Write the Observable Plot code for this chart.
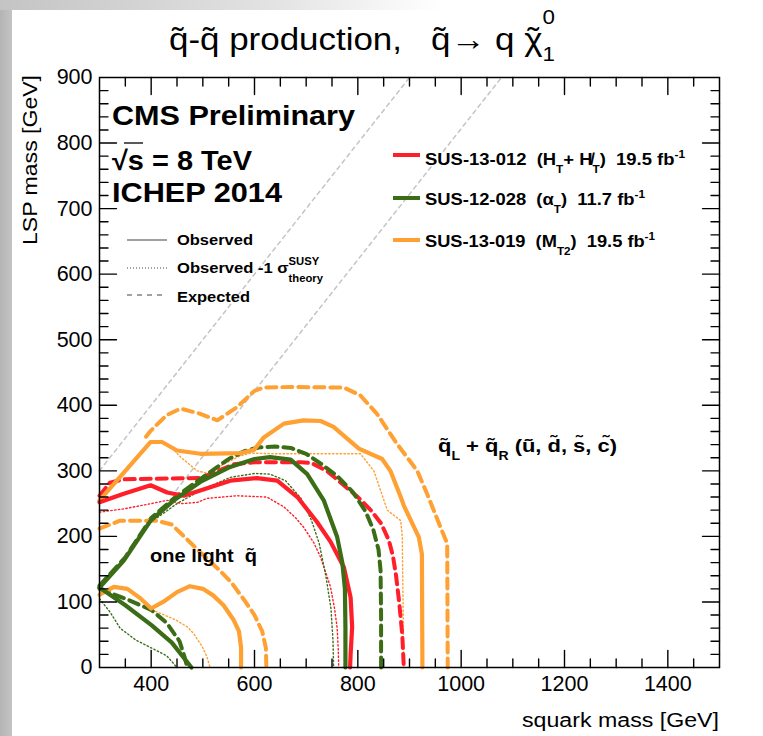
<!DOCTYPE html>
<html><head><meta charset="utf-8">
<script src="https://cdn.jsdelivr.net/npm/d3@7"></script>
<script src="https://cdn.jsdelivr.net/npm/@observablehq/plot@0.6"></script>
<style>
html,body{margin:0;padding:0;background:#fff;}
#wrap{position:relative;width:763px;height:736px;overflow:hidden;background:#fff;}
#lbar{position:absolute;left:0;top:0;width:12px;height:736px;background:linear-gradient(to right,#b4b4b4,#c4c4c4);}
#tbar{position:absolute;left:0;top:0;width:763px;height:10px;background:linear-gradient(to right,#c4c4c4 0%,#e2e2e2 35%,#ffffff 58%);}
#chart{position:absolute;left:0;top:0;}
</style></head>
<body><div id="wrap"><div id="lbar"></div><div id="tbar"></div><div id="chart"></div></div>
<script>
// ---------- axis ticks ----------
const xMajor = [400, 600, 800, 1000, 1200, 1400];
const xTickLabels = ["400", "600", "800", "1000", "1200", "1400"];
const xMinor = [350, 450, 500, 550, 650, 700, 750, 850, 900, 950, 1050, 1100, 1150, 1250, 1300, 1350, 1450];
const yMajor = [100, 200, 300, 400, 500, 600, 700, 800];
const yLabelValues = [0, 100, 200, 300, 400, 500, 600, 700, 800, 900];
const yTickLabels = ["0", "100", "200", "300", "400", "500", "600", "700", "800", "900"];
const yMinor = [20, 40, 60, 80, 120, 140, 160, 180, 220, 240, 260, 280, 320, 340, 360, 380, 420, 440, 460, 480, 520, 540, 560, 580, 620, 640, 660, 680, 720, 740, 760, 780, 820, 840, 860, 880];

// ---------- kinematic guide lines (m_LSP = m_squark - offset) ----------
const diagonalOffsets = [0, 178];
const diagonalStartX = [300, 448];

// ---------- exclusion contours [squark mass, LSP mass] ----------
// SUS-13-012 (HT + MHT), 8 degenerate squarks
const sus13012_obs = [[300,252],[347,265],[399,278],[431,267],[463,262],[495,270],[553,285],[605,289],[644,285],[683,260],[721,222],[747,192],[773,153],[786,107],[789,62],[786,20],[785,0]];
const sus13012_exp = [[300,262],[320,282],[347,287],[400,288],[495,289],[530,300],[560,310],[600,313],[690,313],[710,312],[740,300],[770,280],[800,260],[825,240],[845,220],[860,194],[868,170],[874,140],[880,100],[886,50],[889,0]];
const sus13012_m1 = [[300,237],[347,242],[400,250],[431,255],[460,250],[490,252],[508,258],[566,262],[624,260],[657,245],[680,228],[695,214],[715,190],[728,168],[740,140],[747,123],[755,90],[760,60],[762,30],[763,0]];
// SUS-12-028 (alphaT), 8 squarks
const sus12028_obs8 = [[300,122],[347,163],[399,224],[444,255],[495,283],[553,306],[600,318],[630,321],[670,317],[702,295],[734,255],[760,199],[770,160],[775,120],[776,60],[776,0]];
const sus12028_exp8 = [[300,125],[350,168],[400,228],[450,262],[500,290],[550,318],[580,330],[610,336],[640,337],[670,335],[700,326],[730,310],[760,292],[790,268],[815,238],[830,210],[840,180],[844,148],[845,80],[845,0]];
const sus12028_m18 = [[400,222],[450,250],[500,272],[553,290],[600,296],[630,295],[660,285],[690,258],[710,225],[725,190],[738,140],[748,90],[752,40],[753,0]];
// SUS-12-028, one light squark
const sus12028_obs1 = [[300,122],[350,95],[400,65],[440,38],[478,0]];
const sus12028_exp1 = [[300,120],[350,105],[400,88],[430,68],[455,40],[465,15],[470,0]];
const sus12028_m11 = [[300,105],[320,85],[340,60],[370,42],[400,30],[430,18],[450,0]];
// SUS-13-019 (MT2), 8 squarks
const sus13019_obs8 = [[300,255],[350,300],[399,344],[421,344],[450,331],[495,326],[573,327],[599,332],[618,351],[657,372],[695,377],[728,376],[753,367],[802,334],[847,318],[863,300],[883,260],[889,247],[918,199],[924,173],[925,0]];
const sus13019_exp8 = [[390,352],[399,361],[430,385],[457,395],[495,387],[528,377],[566,397],[600,422],[618,427],[670,428],[773,427],[805,415],[837,387],[876,341],[915,300],[934,265],[960,214],[973,189],[974,0]];
const sus13019_m18 = [[440,335],[457,321],[489,300],[510,296],[540,310],[570,322],[592,327],[644,326],[805,326],[831,300],[844,270],[857,240],[883,224],[886,199],[889,0]];
// SUS-13-019, one light squark
const sus13019_obs1 = [[300,111],[328,123],[354,120],[380,105],[400,90],[423,100],[450,115],[475,124],[500,120],[520,110],[540,95],[560,72],[570,55],[574,30],[574,0]];
const sus13019_exp1 = [[300,212],[340,224],[410,224],[440,218],[470,195],[500,172],[530,150],[555,130],[580,103],[600,80],[615,55],[622,30],[623,0]];
const sus13019_m11 = [[395,90],[420,82],[449,72],[470,62],[483,51],[500,30],[508,16],[514,0]];

const RED = "#ff1f2a", GREEN = "#3b6d16", ORANGE = "#ffa033";
const STYLE = {
  solid: {strokeWidth: 4.2},
  dashed: {strokeWidth: 4, strokeDasharray: "10,6"},
  dotted: {strokeWidth: 1.4, strokeDasharray: "1.4,2.4"}
};
const series = [
  [sus13012_m1, RED, "dotted"], [sus12028_m18, GREEN, "dotted"], [sus12028_m11, GREEN, "dotted"],
  [sus13019_m18, ORANGE, "dotted"], [sus13019_m11, ORANGE, "dotted"],
  [sus13012_exp, RED, "dashed"], [sus12028_exp8, GREEN, "dashed"], [sus12028_exp1, GREEN, "dashed"],
  [sus13019_exp8, ORANGE, "dashed"], [sus13019_exp1, ORANGE, "dashed"],
  [sus13019_obs8, ORANGE, "solid"], [sus13019_obs1, ORANGE, "solid"],
  [sus13012_obs, RED, "solid"], [sus12028_obs8, GREEN, "solid"], [sus12028_obs1, GREEN, "solid"]
];

const diagonals = diagonalOffsets.map((o, i) => [[diagonalStartX[i], diagonalStartX[i] - o], [900 + o, 900]]);

const FONT = "'Liberation Sans', Arial, Helvetica, sans-serif";
const W = 763, H = 736, ML = 99, MR = 44, MT = 77, MB = 69;
const TL = 17, TS = 8.5; // inward tick lengths (px)
const perPxY = 900 / (H - MT - MB), perPxX = 1200 / (W - ML - MR);

// inward tick segments, built from the tick arrays (two points per tick, grouped by key)
const tickSegs = [];
for (const [vals, len] of [[xMajor, TL], [xMinor, TS]]) for (const v of vals) {
  tickSegs.push({k: "b" + v, x: v, y: 0}, {k: "b" + v, x: v, y: len * perPxY});
  tickSegs.push({k: "t" + v, x: v, y: 900}, {k: "t" + v, x: v, y: 900 - len * perPxY});
}
for (const [vals, len] of [[yMajor, TL], [yMinor, TS]]) for (const v of vals) {
  tickSegs.push({k: "l" + v, x: 300, y: v}, {k: "l" + v, x: 300 + len * perPxX, y: v});
  tickSegs.push({k: "r" + v, x: 1500, y: v}, {k: "r" + v, x: 1500 - len * perPxX, y: v});
}

const plot = Plot.plot({
  width: W, height: H,
  marginLeft: ML, marginRight: MR, marginTop: MT, marginBottom: MB,
  x: {domain: [300, 1500], label: null},
  y: {domain: [0, 900], label: null},
  style: {fontFamily: FONT, background: "transparent", overflow: "visible"},
  marks: [
    ...diagonals.map(d => Plot.line(d, {x: p => p[0], y: p => p[1], stroke: "#c4c4c4", strokeWidth: 1.5, strokeDasharray: "4,4"})),
    ...series.map(([pts, color, st]) => Plot.line(pts, {x: p => p[0], y: p => p[1], stroke: color, ...STYLE[st]})),
    Plot.line(tickSegs, {x: "x", y: "y", z: "k", stroke: "#000", strokeWidth: 1.4}),
    Plot.axisX(xMajor, {tickSize: 0, tickPadding: 8, fontSize: 21.5, label: null, tickFormat: d => xTickLabels[xMajor.indexOf(d)]}),
    Plot.axisY(yLabelValues, {tickSize: 0, tickPadding: 7, fontSize: 21.5, label: null, tickFormat: d => yTickLabels[yLabelValues.indexOf(d)]}),
    Plot.frame({stroke: "#000", strokeWidth: 1.5})
  ]
});
document.getElementById("chart").appendChild(plot);

const svg = d3.select(plot);

function rich(x, y, parts, {size = 17, weight = "normal", anchor = "start", rotate = 0, width = null,
                            supShift = 0.42, subShift = 0.32, scriptSize = 0.64} = {}) {
  const t = svg.append("text").attr("x", x).attr("y", y)
    .attr("font-size", size).attr("font-weight", weight).attr("text-anchor", anchor)
    .attr("font-family", FONT).attr("fill", "#000").style("white-space", "pre");
  if (rotate) t.attr("transform", `rotate(${rotate},${x},${y})`);
  let shift = 0, lastLen = 0, pendingDx = 0;
  for (const p of parts) {
    const [s, kind] = typeof p === "string" ? [p, ""] : p;
    const ts = t.append("tspan").text(s);
    let dx = pendingDx; pendingDx = 0;
    if (kind === "sup" || kind === "sub" || kind === "stacksub") {
      const target = kind === "sup" ? -size * supShift : size * subShift;
      ts.attr("font-size", size * scriptSize).attr("dy", target - shift);
      if (kind === "stacksub") dx -= lastLen;
      shift = target;
    } else if (kind === "over") {
      ts.attr("dy", -shift); shift = 0;
      const own = ts.node().getComputedTextLength();
      dx += -(lastLen + own) / 2;
      pendingDx = (lastLen - own) / 2;
    } else {
      ts.attr("dy", -shift);
      shift = 0;
    }
    if (dx) ts.attr("dx", dx);
    lastLen = ts.node().getComputedTextLength();
  }
  if (width) t.attr("textLength", width).attr("lengthAdjust", "spacingAndGlyphs");
  return t;
}

// title
rich(169, 50, ["q\u0303-q\u0303 production,   q\u0303\u2192 q ", "\u03C7", ["\u02DC", "over"], ["0", "sup"], ["1", "stacksub"]],
     {size: 32, width: 386, supShift: 0.8, subShift: 0.34, scriptSize: 0.64});
// axis titles
rich(719, 727, ["squark mass [GeV]"], {size: 20, anchor: "end", width: 197});
rich(37, 75, ["LSP mass [GeV]"], {size: 20, anchor: "end", rotate: -90, width: 170});
// CMS block
rich(112, 125, ["CMS Preliminary"], {size: 27, weight: "bold", width: 243});
rich(112, 170, ["\u221A", "s = 8 TeV"], {size: 27, weight: "bold", width: 140});
rich(112, 202, ["ICHEP 2014"], {size: 27, weight: "bold", width: 170});
svg.append("line").attr("x1", 124).attr("x2", 143).attr("y1", 143).attr("y2", 143).attr("stroke", "#000").attr("stroke-width", 1.3);

// line-style legend
const styleLegend = [
  ["Observed", "solid", 240, 245, 76],
  ["Observed -1 ", "dotted", 268, 273, 146],
  ["Expected", "dashed", 295, 302, 73]
];
for (const [lab, st, ly, ty, w] of styleLegend) {
  svg.append("line").attr("x1", 127).attr("x2", 167).attr("y1", ly).attr("y2", ly)
    .attr("stroke", "#444").attr("stroke-width", 1.2)
    .attr("stroke-dasharray", st === "dotted" ? "1,2" : st === "dashed" ? "5,5" : null);
  if (st === "dotted") rich(177, ty, [lab + "\u03C3", ["SUSY", "sup"], ["theory", "stacksub"]],
                           {size: 15.5, weight: "bold", width: w, supShift: 0.5, subShift: 0.55, scriptSize: 0.68});
  else rich(177, ty, [lab], {size: 15.5, weight: "bold", width: w});
}

// analysis legend
const anaLegend = [
  [RED, 155, 165, 260, ["SUS-13-012  (H", ["T", "sub"], "+ H\u0338", ["T", "sub"], ")  19.5 fb", ["-1", "sup"]]],
  [GREEN, 198, 205, 220, ["SUS-12-028  (\u03B1", ["T", "sub"], ")  11.7 fb", ["-1", "sup"]]],
  [ORANGE, 240, 247, 230, ["SUS-13-019  (M", ["T2", "sub"], ")  19.5 fb", ["-1", "sup"]]]
];
for (const [c, ly, ty, w, parts] of anaLegend) {
  svg.append("line").attr("x1", 393).attr("x2", 420).attr("y1", ly).attr("y2", ly).attr("stroke", c).attr("stroke-width", 4);
  rich(425, ty, parts, {size: 17, weight: "bold", width: w, subShift: 0.45});
}

// region labels
rich(150, 562, ["one light  q\u0303"], {size: 19, weight: "bold", width: 107});
rich(438, 452, ["q\u0303", ["L", "sub"], " + q\u0303", ["R", "sub"], " (u\u0303, d\u0303, s\u0303, c\u0303)"], {size: 19, weight: "bold", width: 179, subShift: 0.4});
</script>
</body></html>
